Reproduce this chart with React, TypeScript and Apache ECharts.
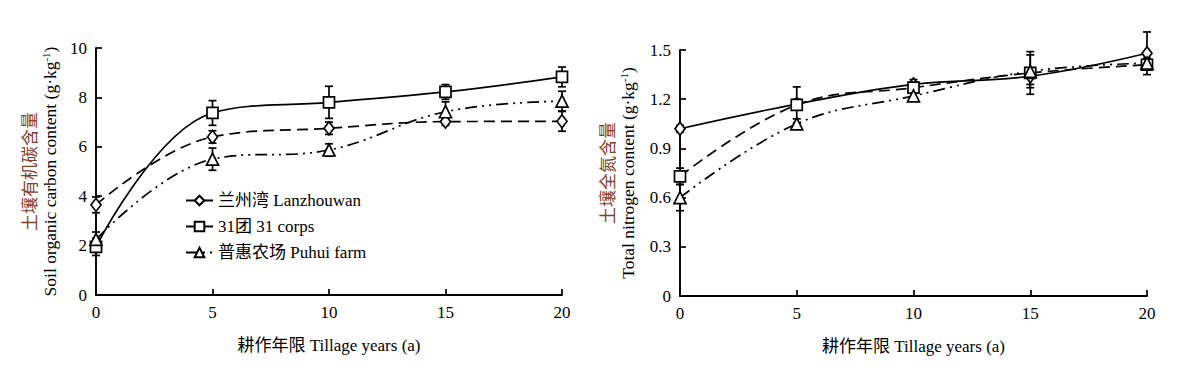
import React, { useEffect, useRef } from "react";
import * as echarts from "echarts";

const years = [0, 5, 10, 15, 20];

const legendNames = ["兰州湾 Lanzhouwan", "31团 31 corps", "普惠农场 Puhui farm"];

// Soil organic carbon (g/kg)
const socLanzhouwan = [3.65, 6.4, 6.75, 7.02, 7.03];
const socLanzhouwanErr = [0.32, 0.25, 0.25, 0.15, 0.4];
const soc31 = [1.95, 7.37, 7.8, 8.22, 8.83];
const soc31Err = [0.35, 0.5, 0.65, 0.3, 0.4];
const socPuhui = [2.25, 5.5, 5.87, 7.42, 7.85];
const socPuhuiErr = [0.3, 0.45, 0.25, 0.4, 0.4];

// Total nitrogen (g/kg)
const tnLanzhouwan = [1.02, 1.17, 1.29, 1.34, 1.48];
const tnLanzhouwanErr = [0.02, 0.03, 0.03, 0.05, 0.13];
const tn31 = [0.73, 1.165, 1.27, 1.36, 1.41];
const tn31Err = [0.05, 0.11, 0.03, 0.13, 0.03];
const tnPuhui = [0.6, 1.05, 1.22, 1.37, 1.42];
const tnPuhuiErr = [0.08, 0.03, 0.03, 0.1, 0.03];

const xTicks = [0, 5, 10, 15, 20];
const socTicks = [0, 2, 4, 6, 8, 10];
const tnTicks = [0, 0.3, 0.6, 0.9, 1.2, 1.5];

const FONT = "'Liberation Serif', 'Times New Roman', 'Noto Sans CJK SC', serif";
const CN_COLOR = "#80402a";
const FS = 17;

const dashed = [11, 6];
const dashDot = [12, 5, 2, 5, 2, 5];

function pairs(vals: number[], errs?: number[]) {
  return years.map((x, i) => (errs ? [x, vals[i], errs[i]] : [x, vals[i]]));
}

function errSeries(vals: number[], errs: number[], idx: number) {
  return {
    type: "custom",
    xAxisIndex: idx,
    yAxisIndex: idx,
    z: 1,
    silent: true,
    data: pairs(vals, errs),
    renderItem: (params: any, api: any) => {
      const x = api.value(0);
      const y = api.value(1);
      const e = api.value(2);
      const top = api.coord([x, y + e]);
      const bot = api.coord([x, y - e]);
      const w = 4;
      const style = { stroke: "#000", lineWidth: 1.7 };
      return {
        type: "group",
        children: [
          { type: "line", shape: { x1: top[0], y1: top[1], x2: bot[0], y2: bot[1] }, style },
          { type: "line", shape: { x1: top[0] - w, y1: top[1], x2: top[0] + w, y2: top[1] }, style },
          { type: "line", shape: { x1: bot[0] - w, y1: bot[1], x2: bot[0] + w, y2: bot[1] }, style },
        ],
      };
    },
  };
}

function lineSeries(name: string, vals: number[], idx: number, symbol: string, type: any, size: any) {
  return {
    name,
    type: "line",
    xAxisIndex: idx,
    yAxisIndex: idx,
    z: 3,
    smooth: 0.4,
    data: pairs(vals),
    symbol,
    symbolSize: size,
    showAllSymbol: true,
    lineStyle: { color: "#000", width: 1.7, type },
    itemStyle: { color: "#fff", borderColor: "#000", borderWidth: 1.7 },
  };
}

const axisLine = { show: true, lineStyle: { color: "#000", width: 1.9 } };
const axisTick = { show: true, inside: true, length: 6, lineStyle: { color: "#000", width: 1.7 } };

function xAxis(idx: number) {
  return {
    type: "value",
    gridIndex: idx,
    min: xTicks[0],
    max: xTicks[xTicks.length - 1],
    interval: 5,
    axisLine,
    axisTick,
    splitLine: { show: false },
    axisLabel: { color: "#000", fontFamily: FONT, fontSize: FS, margin: 9 },
    name: "耕作年限 Tillage years (a)",
    nameLocation: "middle",
    nameGap: 42,
    nameTextStyle: { color: "#000", fontFamily: FONT, fontSize: FS },
  };
}

function yName(cn: string, en: string) {
  return `{cn|${cn}}\n{en|${en} (g·kg}{sup|-1}{en|)}`;
}

export default function App() {
  const ref = useRef<HTMLDivElement>(null);
  useEffect(() => {
    if (!ref.current) return;
    const chart = echarts.init(ref.current, null, { renderer: "svg" });
    const rich = {
      cn: { color: CN_COLOR, fontFamily: FONT, fontSize: FS, lineHeight: 20, align: "center" },
      en: { color: "#000", fontFamily: FONT, fontSize: 17.5, lineHeight: 20 },
      sup: { color: "#000", fontFamily: FONT, fontSize: 11, lineHeight: 20, verticalAlign: "top", padding: [0, 0, 8, 0] },
    };
    chart.setOption({
      animation: false,
      backgroundColor: "#fff",
      grid: [
        { left: 96, top: 48, width: 466, height: 247 },
        { left: 680, top: 50, width: 467, height: 246 },
      ],
      legend: {
        data: legendNames,
        orient: "vertical",
        left: 180,
        top: 187,
        itemWidth: 27,
        itemHeight: 12,
        itemGap: 9,
        textStyle: { color: "#000", fontFamily: FONT, fontSize: FS, lineHeight: 17 },
      },
      xAxis: [xAxis(0), xAxis(1)],
      yAxis: [
        {
          type: "value",
          gridIndex: 0,
          min: socTicks[0],
          max: socTicks[socTicks.length - 1],
          interval: 2,
          axisLine,
          axisTick,
          splitLine: { show: false },
          axisLabel: { color: "#000", fontFamily: FONT, fontSize: FS, margin: 9 },
          name: yName("土壤有机碳含量", "Soil organic carbon content"),
          nameLocation: "middle",
          nameRotate: 90,
          nameGap: 36,
          nameTextStyle: { rich },
        },
        {
          type: "value",
          gridIndex: 1,
          min: tnTicks[0],
          max: tnTicks[tnTicks.length - 1],
          interval: 0.3,
          axisLine,
          axisTick,
          splitLine: { show: false },
          axisLabel: {
            color: "#000",
            fontFamily: FONT,
            fontSize: FS,
            margin: 9,
            formatter: (v: number) => (v === 0 ? "0" : v.toFixed(1)),
          },
          name: yName("土壤全氮含量", "Total nitrogen content"),
          nameLocation: "middle",
          nameRotate: 90,
          nameGap: 42,
          nameTextStyle: { rich },
        },
      ],
      series: [
        errSeries(socLanzhouwan, socLanzhouwanErr, 0),
        errSeries(soc31, soc31Err, 0),
        errSeries(socPuhui, socPuhuiErr, 0),
        lineSeries(legendNames[0], socLanzhouwan, 0, "diamond", dashed, [10, 13]),
        lineSeries(legendNames[1], soc31, 0, "rect", "solid", 11),
        lineSeries(legendNames[2], socPuhui, 0, "triangle", dashDot, 12),
        errSeries(tnLanzhouwan, tnLanzhouwanErr, 1),
        errSeries(tn31, tn31Err, 1),
        errSeries(tnPuhui, tnPuhuiErr, 1),
        lineSeries(legendNames[0], tnLanzhouwan, 1, "diamond", "solid", [10, 13]),
        lineSeries(legendNames[1], tn31, 1, "rect", dashed, 11),
        lineSeries(legendNames[2], tnPuhui, 1, "triangle", dashDot, 12),
      ],
    });
    return () => chart.dispose();
  }, []);
  return (
    <div
      ref={ref}
      style={{ position: "fixed", left: 0, top: 0, width: 1191, height: 377, background: "#fff" }}
    />
  );
}
